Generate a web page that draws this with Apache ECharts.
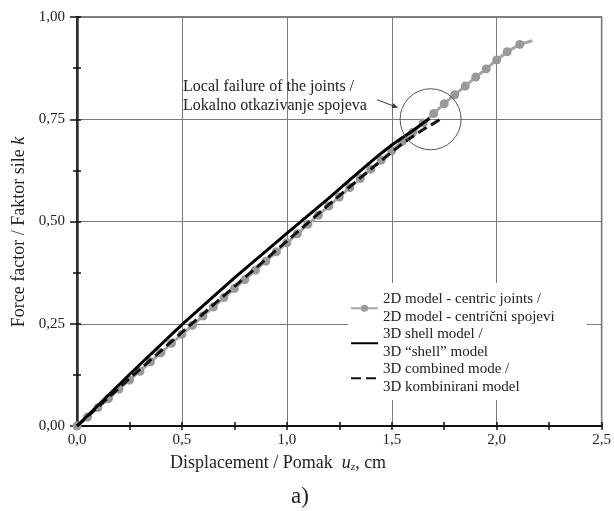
<!DOCTYPE html>
<html>
<head>
<meta charset="utf-8">
<script src="https://cdn.jsdelivr.net/npm/echarts@6/dist/echarts.min.js"></script>
<style>html,body{margin:0;padding:0;background:#fff;}#c{width:614px;height:511px;}</style>
</head>
<body>
<div id="c"></div>
<script>
// ---- data ----
const seriesNames = [
  '2D model - centric joints /\n2D model - centrični spojevi',
  '3D shell model /\n3D \u201cshell\u201d model',
  '3D combined mode /\n3D kombinirani model'
];
const model2dX = [0.00,0.05,0.10,0.15,0.20,0.25,0.30,0.35,0.40,0.45,0.50,0.55,0.60,0.65,0.70,0.75,0.80,0.85,0.90,0.95,1.00,1.05,1.10,1.15,1.20,1.25,1.30,1.35,1.40,1.45,1.50,1.55,1.60,1.65,1.70,1.75,1.80,1.85,1.90,1.95,2.00,2.05,2.11,2.17];
const model2dY = [0.000,0.022,0.045,0.067,0.090,0.112,0.134,0.157,0.179,0.202,0.224,0.246,0.269,0.291,0.314,0.336,0.358,0.381,0.403,0.426,0.448,0.470,0.493,0.515,0.538,0.560,0.583,0.605,0.628,0.650,0.673,0.696,0.718,0.741,0.764,0.788,0.810,0.831,0.853,0.873,0.895,0.915,0.933,0.942];
const shellX = [0.00,0.25,0.50,0.75,1.00,1.20,1.30,1.40,1.45,1.50,1.55,1.60,1.64,1.68];
const shellY = [0.000,0.126,0.248,0.362,0.471,0.557,0.602,0.646,0.667,0.687,0.705,0.722,0.737,0.752];
const combinedX = [0.00,0.25,0.50,0.75,1.00,1.20,1.30,1.40,1.50,1.55,1.60,1.65,1.70,1.735];
const combinedY = [0.000,0.116,0.229,0.341,0.452,0.541,0.585,0.628,0.670,0.690,0.708,0.725,0.740,0.751];
const xTicks = [0, 0.5, 1.0, 1.5, 2.0, 2.5];
const yTicks = [0, 0.25, 0.5, 0.75, 1.0];
const failurePoint = [1.685, 0.75];

const FONT = 'Liberation Serif';
const chart = echarts.init(document.getElementById('c'), null, {renderer: 'canvas'});

const toPairs = (xs, ys) => xs.map((x, i) => [x, ys[i]]);
const grayData = toPairs(model2dX, model2dY).map((p, i, a) =>
  i === a.length - 1 ? {value: p, symbol: 'none'} : p);

const option = {
  animation: false,
  backgroundColor: '#fff',
  grid: {left: 77, top: 17, right: 9, bottom: 85, show: true, borderColor: '#555', borderWidth: 1.5},
  xAxis: [
    {type: 'value', min: xTicks[0], max: xTicks[xTicks.length - 1], interval: 0.5,
     axisLine: {show: true, onZero: false, lineStyle: {color: '#111', width: 2}},
     axisTick: {show: true, inside: false, length: 4, lineStyle: {color: '#111', width: 1.5}},
     minorTick: {show: true, splitNumber: 2, length: 4, lineStyle: {color: '#111', width: 1.5}},
     splitLine: {show: true, lineStyle: {color: '#7a7a7a', width: 1}},
     axisLabel: {margin: 7, fontFamily: FONT, fontSize: 15, color: '#222',
       formatter: v => v.toFixed(1).replace('.', ',')}},
    {type: 'value', min: 0, max: 2.5, interval: 0.25, position: 'bottom',
     axisLine: {show: false}, axisLabel: {show: false}, splitLine: {show: false},
     axisTick: {show: true, inside: true, length: 4, lineStyle: {color: '#111', width: 1.5}}}
  ],
  yAxis: [
    {type: 'value', min: yTicks[0], max: yTicks[yTicks.length - 1], interval: 0.25,
     axisLine: {show: true, onZero: false, lineStyle: {color: '#111', width: 2}},
     axisTick: {show: true, inside: false, length: 7, lineStyle: {color: '#111', width: 1.5}},
     minorTick: {show: true, splitNumber: 2, length: 4, lineStyle: {color: '#111', width: 1.5}},
     splitLine: {show: true, lineStyle: {color: '#7a7a7a', width: 1}},
     axisLabel: {margin: 12, fontFamily: FONT, fontSize: 15, color: '#222',
       formatter: v => v.toFixed(2).replace('.', ',')}},
    {type: 'value', min: 0, max: 1, interval: 0.125, position: 'left',
     axisLine: {show: false}, axisLabel: {show: false}, splitLine: {show: false},
     axisTick: {show: true, inside: true, length: 4, lineStyle: {color: '#111', width: 1.5}}},
    {type: 'value', min: 0, max: 1, interval: 0.25, position: 'right',
     axisLine: {show: true, lineStyle: {color: '#333', width: 2.5}},
     axisLabel: {show: false}, splitLine: {show: false}, axisTick: {show: false}}
  ],
  legend: {
    orient: 'vertical', left: 350, top: 282,
    padding: 0, itemGap: -17.5,
    itemWidth: 27, itemHeight: 9,
    selectedMode: false,
    data: [
      {name: seriesNames[0]},
      {name: seriesNames[1], itemStyle: {opacity: 0}},
      {name: seriesNames[2], itemStyle: {opacity: 0}}
    ],
    textStyle: {fontFamily: FONT, fontSize: 15, color: '#222', lineHeight: 17.5, padding: [17.5, 0, 0, 0]}
  },
  series: [
    {name: seriesNames[0], type: 'line', data: grayData, symbol: 'circle', symbolSize: 9,
     showSymbol: true, showAllSymbol: true, z: 2,
     itemStyle: {color: '#999999', borderWidth: 0},
     lineStyle: {color: '#a6a6a6', width: 3}},
    {name: seriesNames[2], type: 'line', data: toPairs(combinedX, combinedY), symbol: 'none', z: 3,
     itemStyle: {color: '#111'},
     lineStyle: {color: '#111', width: 3, type: [10, 5]}},
    {name: seriesNames[1], type: 'line', data: toPairs(shellX, shellY), symbol: 'none', z: 4,
     itemStyle: {color: '#000'},
     lineStyle: {color: '#000', width: 3}}
  ]
};
chart.setOption(option);

const c = chart.convertToPixel({xAxisIndex: 0, yAxisIndex: 0}, failurePoint);
const r = 30.5;
const arrowEnd = [c[0] - r - 2, c[1] - 11.5];
const arrowStart = [arrowEnd[0] - 21, arrowEnd[1] - 8];
const ang = Math.atan2(arrowEnd[1] - arrowStart[1], arrowEnd[0] - arrowStart[0]);
const ah = 6, aw = 2.5;
const back = [arrowEnd[0] - ah * Math.cos(ang), arrowEnd[1] - ah * Math.sin(ang)];
const nx = -Math.sin(ang), ny = Math.cos(ang);

chart.setOption({
  graphic: [
    {type: 'rect', shape: {x: 348, y: 283, width: 239, height: 117}, style: {fill: '#fff'}, z: 1, silent: true},
    {type: 'circle', shape: {cx: c[0], cy: c[1], r: r}, style: {fill: 'none', stroke: '#555', lineWidth: 1}, z: 10},
    {type: 'line', shape: {x1: arrowStart[0], y1: arrowStart[1], x2: back[0], y2: back[1]}, style: {stroke: '#333', lineWidth: 1}, z: 10},
    {type: 'polygon', shape: {points: [arrowEnd, [back[0] + nx * aw, back[1] + ny * aw], [back[0] - nx * aw, back[1] - ny * aw]]}, style: {fill: '#333'}, z: 10},
    {type: 'text', left: 183, top: 78, z: 10,
     style: {text: 'Local failure of the joints /\nLokalno otkazivanje spojeva', font: '16px "Liberation Serif"', fill: '#222', lineHeight: 18.5}},
    {type: 'text', x: 19, y: 232, rotation: Math.PI / 2, z: 10,
     style: {text: '{a|Force factor / Faktor sile }{i|k}', align: 'center', verticalAlign: 'middle',
       rich: {a: {fontFamily: FONT, fontSize: 18, fill: '#222'}, i: {fontFamily: FONT, fontSize: 18, fontStyle: 'italic', fill: '#222'}}}},
    {type: 'text', x: 278, y: 463, z: 10,
     style: {text: '{a|Displacement / Pomak  }{i|u}{s|z}{a|, cm}', align: 'center', verticalAlign: 'middle',
       rich: {a: {fontFamily: FONT, fontSize: 18, fill: '#222'}, i: {fontFamily: FONT, fontSize: 18, fontStyle: 'italic', fill: '#222'},
              s: {fontFamily: FONT, fontSize: 11, fontStyle: 'italic', fill: '#222', padding: [9, 0, 0, 0]}}}},
    {type: 'text', x: 300, y: 497, z: 10,
     style: {text: 'a)', font: '23px "Liberation Serif"', fill: '#222', align: 'center', verticalAlign: 'middle'}}
  ]
});
</script>
</body>
</html>
